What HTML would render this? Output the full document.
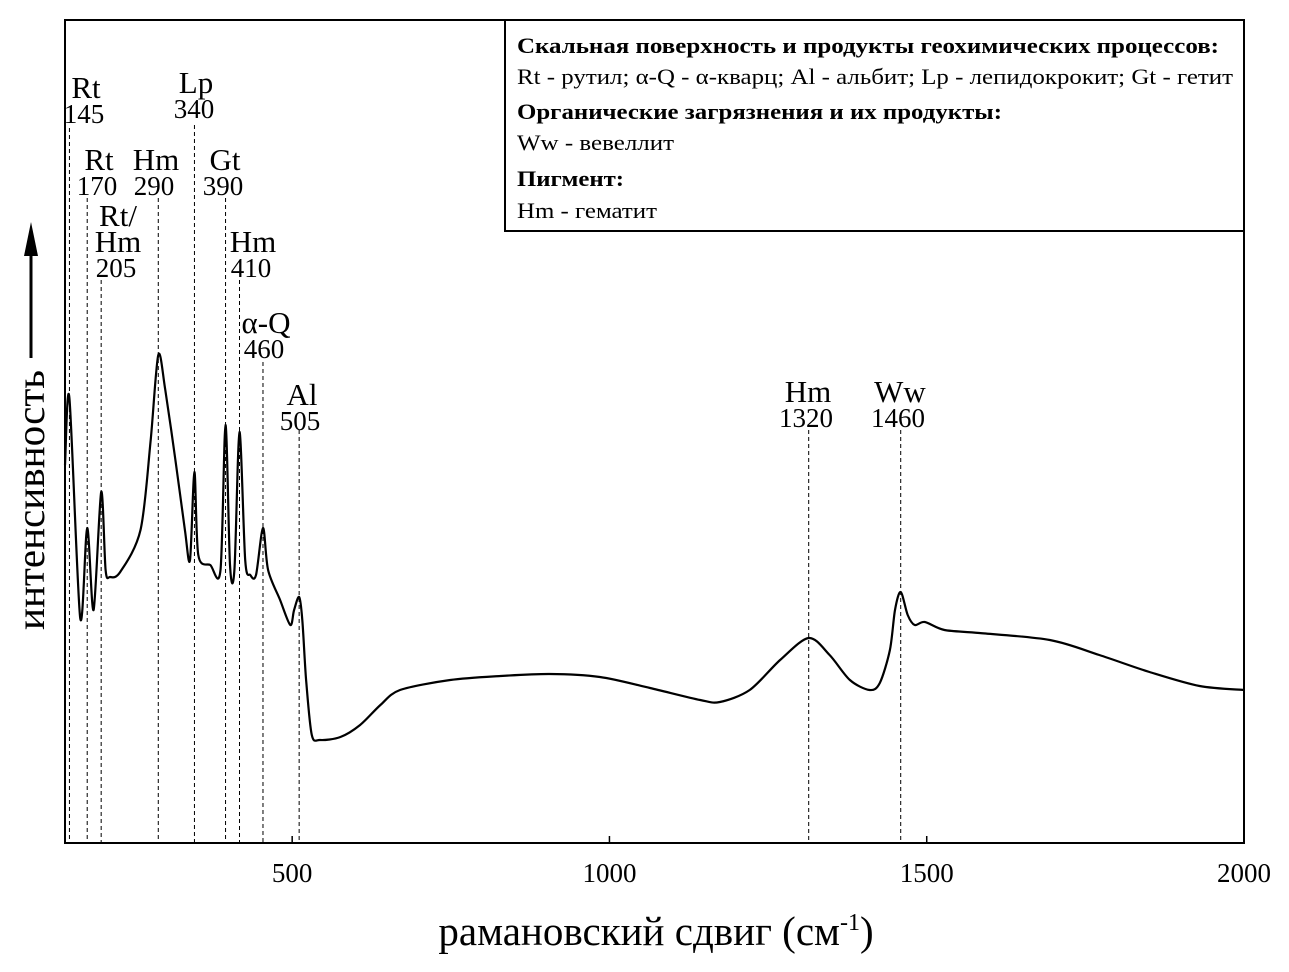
<!DOCTYPE html>
<html><head><meta charset="utf-8"><style>
html,body{margin:0;padding:0;background:#fff;}
svg{display:block;font-family:"Liberation Serif","DejaVu Serif",serif;}
</style></head><body>
<svg id="chart" width="1289" height="972" viewBox="0 0 1289 972">
<rect x="65" y="20" width="1179" height="823" fill="none" stroke="#000" stroke-width="2"/>
<g id="ticks"></g>
<g id="marks"></g>
<path id="spectrum" fill="none" stroke="#000" stroke-width="2.2" stroke-linejoin="round"/>
<g>
<rect x="505" y="20" width="739" height="211" fill="#fff" stroke="#000" stroke-width="2"/>
<text x="517" y="53" font-size="22" font-weight="bold" textLength="702" lengthAdjust="spacingAndGlyphs">Скальная поверхность и продукты геохимических процессов:</text>
<text x="517" y="84" font-size="22" textLength="716" lengthAdjust="spacingAndGlyphs">Rt - рутил; α-Q - α-кварц; Al - альбит; Lp - лепидокрокит; Gt - гетит</text>
<text x="517" y="119" font-size="22" font-weight="bold" textLength="485" lengthAdjust="spacingAndGlyphs">Органические загрязнения и их продукты:</text>
<text x="517" y="150" font-size="22" textLength="157" lengthAdjust="spacingAndGlyphs">Ww - вевеллит</text>
<text x="517" y="186" font-size="22" font-weight="bold" textLength="107" lengthAdjust="spacingAndGlyphs">Пигмент:</text>
<text x="517" y="218" font-size="22" textLength="140" lengthAdjust="spacingAndGlyphs">Hm - гематит</text>
</g>
<g>
<text transform="translate(44,500) rotate(-90)" text-anchor="middle" font-size="40" textLength="260" lengthAdjust="spacingAndGlyphs">интенсивность</text>
<line x1="31" y1="358" x2="31" y2="250" stroke="#000" stroke-width="3"/>
<polygon points="31,222 24,256 38,256" fill="#000"/>
</g>
<text x="656" y="945" text-anchor="middle" font-size="41">рамановский сдвиг (см<tspan dy="-15" font-size="24">-1</tspan><tspan dy="15">)</tspan></text>
</svg>
<script>
const xTicks = [500, 1000, 1500, 2000];
const waveNumbers = [142,149,166,177,187,199,206,213,229,261,277,289,300,316,331,339,346,352,371,387,395,402,409,417,426,434,443,454,462,481,497,503,511,516,522,531,544,576,607,639,670,749,828,906,985,1064,1143,1174,1221,1269,1314,1347,1379,1410,1426,1442,1450,1459,1470,1481,1497,1528,1583,1694,1772,1851,1930,2000];
const intensities = [378,445,225,315,233,351,273,266,271,313,403,488,453,383,313,283,371,288,278,273,418,278,273,411,283,268,268,315,273,243,218,233,246,223,163,108,103,106,118,138,153,163,167,169,166,155,143,141,153,183,205,188,163,153,160,193,233,251,228,218,221,213,210,203,188,171,157,153];
const peakLabels = ["145","170","205","290","340","390","410","460","505","1320","1460"];
const peakPositions = [149,177,199,289,346,395,417,454,511,1314,1459];
const peakNames = ["Rt","Rt","Rt/|Hm","Hm","Lp","Gt","Hm","α-Q","Al","Hm","Ww"];
const peakLineTops = [128,198,280,198,125,198,280,362,430,430,430];
const labelY = [98,170,252,170,93,170,252,333,405,402,402];
const labelX = [86,99,118,156,196,225,253,266,302,808,900];

const X0=65, X1=1244, VMIN=142, VMAX=2000, YB=843;
const sx = v => X0 + (v - VMIN) * (X1 - X0) / (VMAX - VMIN);
const sy = i => YB - i;
const NS="http://www.w3.org/2000/svg";
const ticks=document.getElementById('ticks');
xTicks.forEach(t=>{
  const l=document.createElementNS(NS,'line');
  l.setAttribute('x1',sx(t));l.setAttribute('x2',sx(t));l.setAttribute('y1',YB);l.setAttribute('y2',YB-7);
  l.setAttribute('stroke','#000');l.setAttribute('stroke-width','1.5');
  
  
  ticks.appendChild(l);
  const tx=document.createElementNS(NS,'text');
  tx.setAttribute('x',sx(t));tx.setAttribute('y',882);tx.setAttribute('text-anchor','middle');tx.setAttribute('font-size','27');
  tx.textContent=t;
  
  
  ticks.appendChild(tx);
});
const marks=document.getElementById('marks');
peakPositions.forEach((p,k)=>{
  const x=sx(p);
  const l=document.createElementNS(NS,'line');
  l.setAttribute('x1',x);l.setAttribute('x2',x);l.setAttribute('y1',peakLineTops[k]);l.setAttribute('y2',YB);
  l.setAttribute('stroke','#000');l.setAttribute('stroke-width','1');l.setAttribute('stroke-dasharray','4,3');
  
  
  marks.appendChild(l);
  const parts=peakNames[k].split('|');
  parts.forEach((s,j)=>{
    const t=document.createElementNS(NS,'text');
    t.setAttribute('x',labelX[k]);t.setAttribute('y',labelY[k]-(parts.length-1-j)*26);
    t.setAttribute('text-anchor','middle');t.setAttribute('font-size','31');
    t.textContent=s;
    
    
    marks.appendChild(t);
  });
  const n=document.createElementNS(NS,'text');
  n.setAttribute('x',labelX[k]-2);n.setAttribute('y',labelY[k]+25);
  n.setAttribute('text-anchor','middle');n.setAttribute('font-size','27');
  n.textContent=peakLabels[k];
  
  
  marks.appendChild(n);
});
const pts=waveNumbers.map((w,k)=>[sx(w),sy(intensities[k])]);
let d='M'+pts[0][0].toFixed(1)+','+pts[0][1].toFixed(1);
for(let k=0;k<pts.length-1;k++){
  const p0=pts[Math.max(0,k-1)],p1=pts[k],p2=pts[k+1],p3=pts[Math.min(pts.length-1,k+2)];
  const t=0.15;
  const c1=[p1[0]+(p2[0]-p0[0])*t,p1[1]+(p2[1]-p0[1])*t];
  const c2=[p2[0]-(p3[0]-p1[0])*t,p2[1]-(p3[1]-p1[1])*t];
  d+='C'+c1[0].toFixed(1)+','+c1[1].toFixed(1)+' '+c2[0].toFixed(1)+','+c2[1].toFixed(1)+' '+p2[0].toFixed(1)+','+p2[1].toFixed(1);
}
document.getElementById('spectrum').setAttribute('d',d);
</script>
</body></html>
